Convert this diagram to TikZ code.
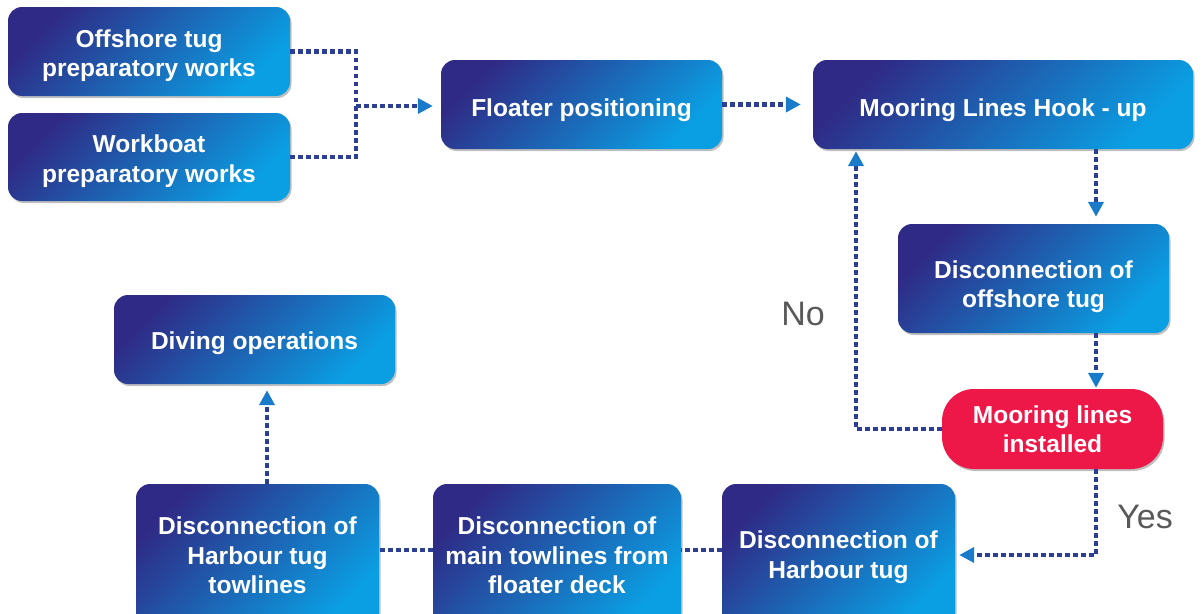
\documentclass[tikz,border=0pt]{standalone}
\usepackage{fontspec}
\setmainfont{Liberation Sans}
\usetikzlibrary{arrows.meta,shadows,calc}
\definecolor{boxdark}{HTML}{2F2A85}
\definecolor{boxlight}{HTML}{0A9FE3}
\definecolor{redbox}{HTML}{EE1848}
\definecolor{linecol}{HTML}{2C3F95}
\definecolor{tipcol}{HTML}{1B7BCB}
\definecolor{labgray}{HTML}{595959}
\newcommand{\topstrut}[1][26pt]{\rule{0pt}{#1}}
\begin{document}
\begin{tikzpicture}[x=1pt,y=-1pt,
  box/.style={rounded corners=14pt, left color=boxdark, right color=boxlight, shading angle=45,
    inner sep=0pt, text=white, align=center, font=\bfseries\fontsize{24.5}{29.5}\selectfont,
    drop shadow={shadow xshift=1.5pt, shadow yshift=-2pt, opacity=0.25, fill=black}},
  redstyle/.style={rounded corners=32pt, fill=redbox, draw=none,
    inner sep=0pt, text=white, align=center, font=\bfseries\fontsize{24.5}{29.5}\selectfont,
    drop shadow={shadow xshift=1.5pt, shadow yshift=-2pt, opacity=0.25, fill=black}},
  conn/.style={line width=4.5pt, dash pattern=on 4.5pt off 3.5pt, draw=linecol},
  arr/.style={-{Triangle[length=15pt,width=15pt,color=tipcol]}},
  lab/.style={text=labgray, font=\fontsize{34}{40}\selectfont, inner sep=0pt}]
\clip (0,0) rectangle (1201,613);
\useasboundingbox (0,0) rectangle (1201,613);
\fill[white] (0,0) rectangle (1201,613);

\node[box, minimum width=282pt, minimum height=89pt] (off) at (149,51.5) {\topstrut[26pt]Offshore tug\\preparatory works};
\node[box, minimum width=282pt, minimum height=88pt] (wb) at (149,157) {\topstrut[26pt]Workboat\\preparatory works};
\node[box, minimum width=281pt, minimum height=89pt] (fl) at (581.5,104.5) {\topstrut[29pt]Floater positioning};
\node[box, minimum width=380pt, minimum height=89pt] (hook) at (1003,104.5) {\topstrut[29pt]Mooring Lines Hook - up};
\node[box, minimum width=271pt, minimum height=109pt] (dot) at (1033.5,278.5) {\topstrut[34pt]Disconnection of\\offshore tug};
\node[redstyle, minimum width=221pt, minimum height=80pt] (red) at (1052.5,429) {Mooring lines\\installed};
\node[box, minimum width=233pt, minimum height=142pt] (ht) at (838.5,555) {\topstrut[22pt]Disconnection of\\Harbour tug};
\node[box, minimum width=248pt, minimum height=142pt] (mt) at (557,555) {\topstrut[19pt]Disconnection of\\main towlines from\\floater deck};
\node[box, minimum width=243pt, minimum height=142pt] (htt) at (257.5,555) {\topstrut[19pt]Disconnection of\\Harbour tug\\towlines};
\node[box, minimum width=281pt, minimum height=89pt] (div) at (254.5,339.5) {\topstrut[26pt]Diving operations};

\node[lab] (no) at (803,314) {No};
\node[lab] (yes) at (1145,517) {Yes};

\coordinate (j) at (356,106);
\coordinate (cx) at (1096,0);
\coordinate (nx) at (856,0);
\coordinate (dx) at (267,0);

\draw[conn] (off.east) -| (j);
\draw[conn] (wb.east) -| (j);
\draw[conn,arr,shorten >=8pt] (j) -- (fl.west |- j);
\draw[conn,arr,shorten >=12pt] (fl.east) -- (hook.west);
\draw[conn,arr,shorten >=7pt] (hook.south -| cx) -- (dot.north -| cx);
\draw[conn,arr,shorten >=1pt] (dot.south -| cx) -- (red.north -| cx);
\draw[conn,arr,shorten >=2pt] (red.west) -| (nx |- hook.south);
\draw[conn,arr,shorten >=4pt] (red.south -| cx) |- (ht.east);
\draw[conn] ([yshift=5pt]ht.west) -- ([yshift=5pt]mt.east);
\draw[conn] ([yshift=5pt]mt.west) -- ([yshift=5pt]htt.east);
\draw[conn,arr,shorten >=6pt] (htt.north -| dx) -- (div.south -| dx);
\end{tikzpicture}
\end{document}
